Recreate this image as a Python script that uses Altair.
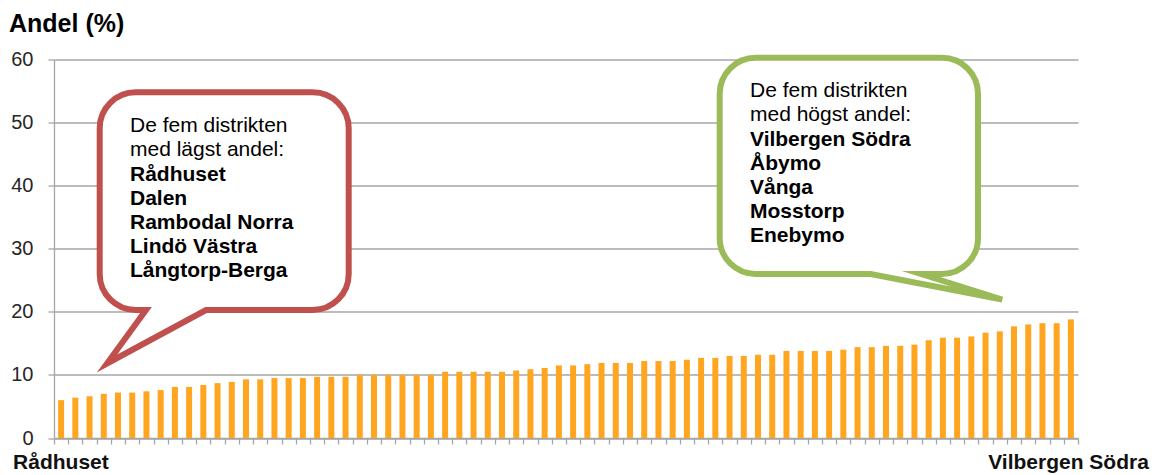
import altair as alt
import pandas as pd

# ---------------- data ----------------
values = [6.0, 6.4, 6.6, 7.0, 7.2, 7.2, 7.4, 7.6, 8.1, 8.1,
          8.4, 8.7, 8.9, 9.3, 9.3, 9.5, 9.5, 9.5, 9.7, 9.7,
          9.7, 10.0, 10.0, 10.0, 10.0, 10.0, 10.0, 10.5, 10.5, 10.5,
          10.5, 10.5, 10.7, 10.9, 11.1, 11.5, 11.5, 11.7, 11.9, 11.9,
          11.9, 12.2, 12.2, 12.2, 12.4, 12.7, 12.7, 13.0, 13.0, 13.2,
          13.2, 13.8, 13.8, 13.8, 13.8, 14.0, 14.4, 14.4, 14.6, 14.6,
          14.8, 15.5, 15.9, 15.9, 16.1, 16.7, 16.9, 17.7, 18.0, 18.2,
          18.2, 18.8]
low_names = ["Rådhuset", "Dalen", "Rambodal Norra", "Lindö Västra", "Långtorp-Berga"]
high_names = ["Enebymo", "Mosstorp", "Vånga", "Åbymo", "Vilbergen Södra"]
mid_names = [f"Distrikt {i}" for i in range(6, 68)]
districts = low_names + mid_names + high_names
y_ticks = [0, 10, 20, 30, 40, 50, 60]
title_text = "Andel (%)"
low_intro = ["De fem distrikten", "med lägst andel:"]
low_list = ["Rådhuset", "Dalen", "Rambodal Norra", "Lindö Västra", "Långtorp-Berga"]
high_intro = ["De fem distrikten", "med högst andel:"]
high_list = ["Vilbergen Södra", "Åbymo", "Vånga", "Mosstorp", "Enebymo"]

# ---------------- style ----------------
FONT = "Liberation Sans"
ORANGE = "#FFA51F"
GRID = "#A6A6A6"
RED = "#C0504D"
GREEN = "#9BBB59"
W, H = 1024, 378.5
X0, Y0 = 54, 59.5  # page position of plot origin

df = pd.DataFrame({"distrikt": districts, "andel": values})
one = pd.DataFrame({"k": [0]})

x_enc = alt.X("distrikt:N", sort=districts,
              scale=alt.Scale(paddingInner=0, paddingOuter=0),
              axis=alt.Axis(labels=False, title=None, tickBand="extent",
                            tickSize=6, tickColor=GRID, tickWidth=1.3,
                            domainColor=GRID, domainWidth=1.3, grid=False))
y_enc = alt.Y("andel:Q", scale=alt.Scale(domain=[0, 60], nice=False),
              axis=alt.Axis(values=y_ticks, title=None, grid=True,
                            gridColor=GRID, gridWidth=1.3,
                            domainColor=GRID, domainWidth=1.3,
                            tickColor=GRID, tickWidth=1.3, tickSize=6,
                            labelFont=FONT, labelFontSize=20,
                            labelColor="#262626", labelPadding=15))

bars = alt.Chart(df).mark_bar(color=ORANGE, width=alt.RelativeBandSize(0.42)).encode(
    x=x_enc, y=y_enc)


def bubble_path(w, h, r, b1, b2, tx, ty):
    return (f"M{r},0 L{w - r},0 A{r},{r} 0 0 1 {w},{r} "
            f"L{w},{h - r} A{r},{r} 0 0 1 {w - r},{h} "
            f"L{b2},{h} L{tx},{ty} L{b1},{h} "
            f"L{r},{h} A{r},{r} 0 0 1 0,{h - r} "
            f"L0,{r} A{r},{r} 0 0 1 {r},0 Z")


def bubble(left, top, w, h, b1, b2, tx, ty, color):
    path = bubble_path(w, h, 36, b1, b2, tx, ty)
    return alt.Chart(one).mark_point(
        shape=path, size=4, filled=True, fill="white", stroke=color,
        strokeWidth=6, opacity=1, fillOpacity=1, strokeOpacity=1,
        strokeJoin="miter", strokeMiterLimit=12
    ).encode(x=alt.value(left - X0), y=alt.value(top - Y0))


def text_block(lines, x, y, bold):
    return alt.Chart(one).mark_text(
        align="left", baseline="alphabetic", font=FONT, fontSize=21,
        fontWeight="bold" if bold else "normal", lineHeight=24.2, color="#000000"
    ).encode(x=alt.value(x - X0), y=alt.value(y - Y0), text=alt.value(lines))


red_bubble = bubble(99.7, 92.3, 249, 217.7, 46.3, 106.3, 7.3, 271.2, RED)
green_bubble = bubble(719.7, 57.8, 258.3, 216.2, 151, 201.5, 282.5, 241.7, GREEN)

red_t1 = text_block(low_intro, 130, 132.3, False)
red_t2 = text_block(low_list, 130, 180.7, True)
green_t1 = text_block(high_intro, 750, 97.3, False)
green_t2 = text_block(high_list, 750, 145.7, True)

title = alt.Chart(one).mark_text(
    align="left", baseline="alphabetic", font=FONT, fontSize=25,
    fontWeight="bold", color="#000000"
).encode(x=alt.value(9 - X0), y=alt.value(32 - Y0), text=alt.value(title_text))

first_lbl = alt.Chart(df.iloc[[0]]).mark_text(
    align="left", baseline="alphabetic", font=FONT, fontSize=21,
    fontWeight="bold", color="#111111", dx=-48
).encode(x=alt.X("distrikt:N", sort=districts), y=alt.value(469 - Y0), text="distrikt:N")

last_lbl = alt.Chart(df.iloc[[-1]]).mark_text(
    align="right", baseline="alphabetic", font=FONT, fontSize=21,
    fontWeight="bold", color="#111111", dx=78
).encode(x=alt.X("distrikt:N", sort=districts), y=alt.value(469 - Y0), text="distrikt:N")

chart = alt.layer(
    bars, red_bubble, green_bubble, red_t1, red_t2, green_t1, green_t2,
    title, first_lbl, last_lbl
).properties(
    width=W, height=H,
    autosize=alt.AutoSizeParams(type="none"),
    padding={"left": X0 - 8, "top": Y0 - 8, "right": 72, "bottom": 37},
    background="white"
).configure_view(stroke=None)

chart.save("out.html", embed_options={"renderer": "svg", "actions": False})
